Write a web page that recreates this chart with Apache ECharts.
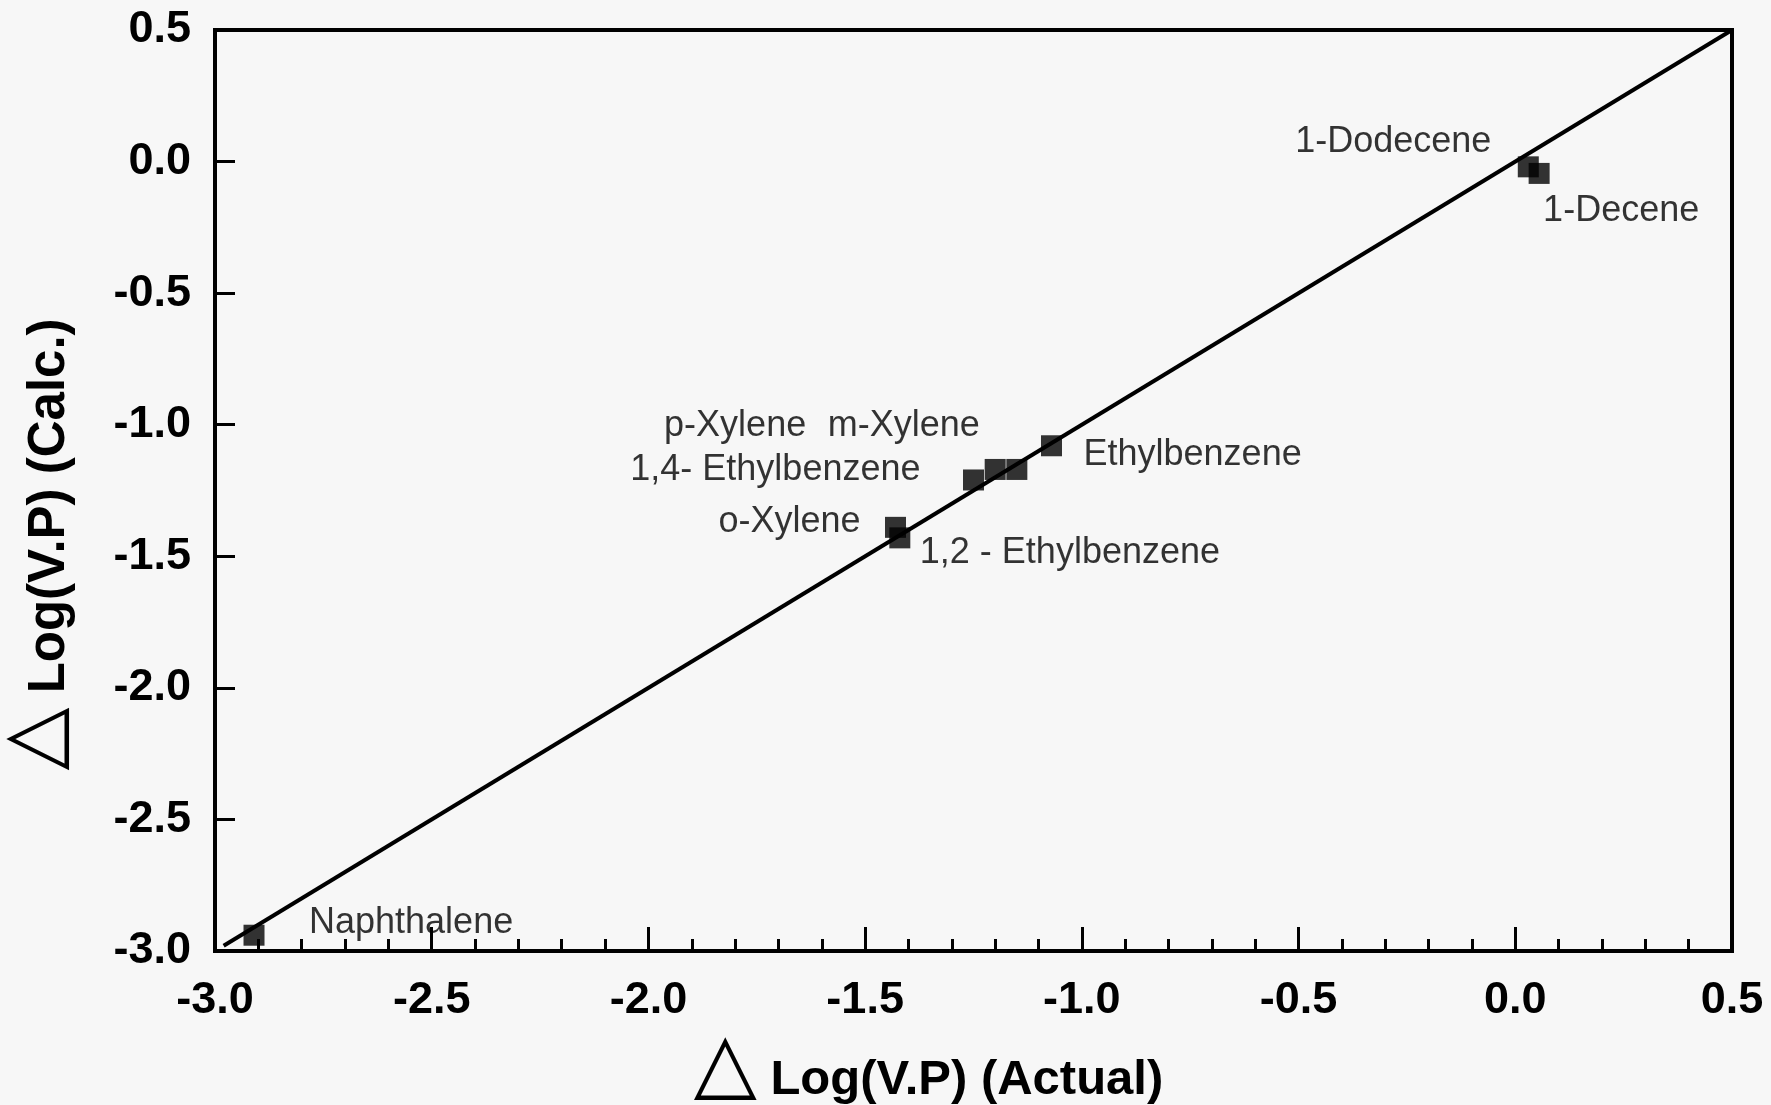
<!DOCTYPE html>
<html>
<head>
<meta charset="utf-8">
<script src="https://cdn.jsdelivr.net/npm/echarts@6/dist/echarts.min.js"></script>
<style>
html,body{margin:0;padding:0;background:#f7f7f7;}
#chart{width:1771px;height:1105px;}
</style>
</head>
<body>
<div id="chart"></div>
<script>
// ---- data ----
const compounds = ['Naphthalene','o-Xylene','1,2 - Ethylbenzene','1,4- Ethylbenzene','p-Xylene','m-Xylene','Ethylbenzene','1-Dodecene','1-Decene'];
const actualLogVP = [-2.91, -1.43, -1.42, -1.25, -1.20, -1.15, -1.07, 0.03, 0.055];
const calcLogVP   = [-2.94, -1.39, -1.43, -1.21, -1.17, -1.17, -1.08, -0.02, -0.045];
const parityLineX = [-2.98, 0.5];
const parityLineY = [-2.98, 0.5];
const xTitle = 'Log(V.P) (Actual)';
const yTitle = 'Log(V.P) (Calc.)';

// ---- label placement (style only) ----
const labelPlace = {
  'Naphthalene':        {align:'left',  offset:[55,-12]},
  'o-Xylene':           {align:'right', offset:[-35,-5]},
  '1,2 - Ethylbenzene': {align:'left',  offset:[20,15]},
  '1,4- Ethylbenzene':  {align:'right', offset:[-53,-10]},
  'p-Xylene':           {align:'right', offset:[-189,-43]},
  'm-Xylene':           {align:'right', offset:[-37,-43]},
  'Ethylbenzene':       {align:'left',  offset:[32,9]},
  '1-Dodecene':         {align:'right', offset:[-37,-25]},
  '1-Decene':           {align:'left',  offset:[4,38]}
};

const FONT = '"Liberation Sans", Arial, Helvetica, sans-serif';

const pointData = compounds.map((n,i)=>({
  name:n,
  value:[actualLogVP[i], calcLogVP[i]],
  label:{
    show:true, position:'inside', formatter:n,
    align:labelPlace[n].align, verticalAlign:'middle',
    offset:labelPlace[n].offset,
    fontFamily:FONT, fontSize:36, color:'#000'
  }
}));

const titleRich = {tri:{fontFamily:'"DejaVu Sans", sans-serif', fontWeight:'normal', fontSize:82, lineHeight:56, padding:[0,0,24,0], color:'#000'}};

const chart = echarts.init(document.getElementById('chart'), null, {renderer:'canvas'});
chart.setOption({
  backgroundColor:'#f7f7f7',
  animation:false,
  grid:{left:215, right:39, top:30, bottom:154, outerBoundsMode:'none', containLabel:false,
        show:true, borderColor:'#000', borderWidth:4, backgroundColor:'transparent'},
  xAxis:{
    type:'value', min:-3, max:0.5, interval:0.5,
    name:'{tri|△} ' + xTitle, nameLocation:'middle', nameGap:70,
    nameTextStyle:{fontFamily:FONT, fontWeight:'bold', fontSize:49, lineHeight:56, color:'#000', padding:[0,90,0,0], rich:titleRich},
    axisLine:{show:true, onZero:false, lineStyle:{color:'#000', width:4}},
    axisTick:{show:true, inside:true, length:24, lineStyle:{color:'#000', width:3}},
    minorTick:{show:true, splitNumber:5, length:12, lineStyle:{color:'#000', width:3}},
    splitLine:{show:false},
    axisLabel:{fontFamily:FONT, fontWeight:'bold', fontSize:45, color:'#000', margin:27,
      showMinLabel:true, showMaxLabel:true, formatter:v=>v.toFixed(1)}
  },
  yAxis:{
    type:'value', min:-3, max:0.5, interval:0.5,
    name:'{tri|△} ' + yTitle, nameLocation:'middle', nameGap:134, nameRotate:90,
    nameTextStyle:{fontFamily:FONT, fontWeight:'bold', fontSize:51, lineHeight:56, color:'#000', padding:[0,108,0,0], rich:titleRich},
    axisLine:{show:true, onZero:false, lineStyle:{color:'#000', width:4}},
    axisTick:{show:true, inside:true, length:20, lineStyle:{color:'#000', width:3}},
    splitLine:{show:false},
    axisLabel:{fontFamily:FONT, fontWeight:'bold', fontSize:45, color:'#000', margin:24,
      showMinLabel:true, showMaxLabel:true, formatter:v=>v.toFixed(1)}
  },
  series:[
    {
      type:'line', data:parityLineX.map((x,i)=>[x, parityLineY[i]]),
      symbol:'none', lineStyle:{color:'#000', width:4}, z:2, silent:true
    },
    {
      type:'scatter', data:pointData, symbol:'rect', symbolSize:21,
      itemStyle:{color:'#000'}, z:3
    }
  ]
});
</script>
</body>
</html>
